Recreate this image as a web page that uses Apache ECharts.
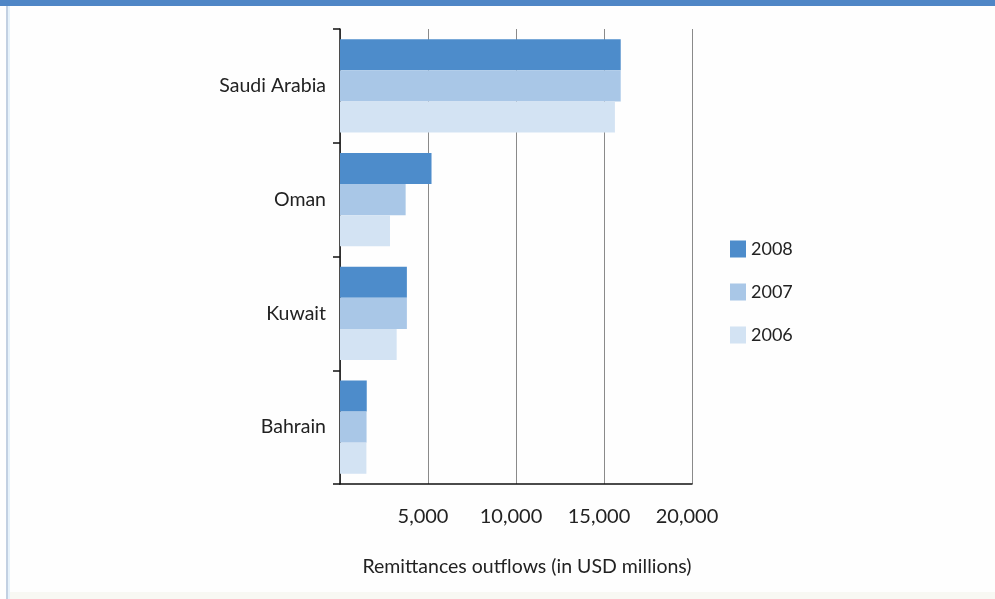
<!DOCTYPE html>
<html>
<head>
<meta charset="utf-8">
<script src="https://cdn.jsdelivr.net/npm/echarts@6/dist/echarts.min.js"></script>
<style>
  html, body { margin: 0; padding: 0; background: #fefefe; }
  #chart { width: 995px; height: 599px; }
</style>
</head>
<body>
<div id="chart"></div>
<script>
// Remittance outflows by country, USD millions
const countries = ['Bahrain', 'Kuwait', 'Oman', 'Saudi Arabia'];
const years = ['2008', '2007', '2006'];
const values2008 = [1520, 3800, 5200, 15950];
const values2007 = [1510, 3800, 3730, 15950];
const values2006 = [1500, 3220, 2840, 15620];
const xTicks = [0, 5000, 10000, 15000, 20000];

const colors = { '2008': '#4d8ccb', '2007': '#a9c7e7', '2006': '#d3e3f3' };
const seriesValues = { '2008': values2008, '2007': values2007, '2006': values2006 };
const font = 'Lato, "Open Sans", sans-serif';

const chart = echarts.init(document.getElementById('chart'), null, { renderer: 'canvas' });

chart.setOption({
  animation: false,
  backgroundColor: '#fefefe',
  textStyle: { fontFamily: font },
  grid: { left: 340, right: 303, top: 29, bottom: 115, containLabel: false },
  legend: {
    orient: 'vertical',
    left: 730,
    top: 240,
    padding: 0,
    itemWidth: 16,
    itemHeight: 17,
    itemGap: 25,
    icon: 'rect',
    data: years,
    textStyle: { fontFamily: font, fontSize: 18, lineHeight: 17, color: '#222' }
  },
  xAxis: {
    type: 'value',
    min: xTicks[0],
    max: xTicks[xTicks.length - 1],
    interval: xTicks[1] - xTicks[0],
    axisLine: { show: true, lineStyle: { color: '#111', width: 1.5 } },
    axisTick: { show: false },
    splitLine: { show: true, lineStyle: { color: '#8a8a8a', width: 1 } },
    axisLabel: {
      margin: 23,
      fontFamily: font,
      fontSize: 20,
      color: '#222',
      padding: [0, 10, 0, 0],
      formatter: v => (v === 0 ? '' : v.toLocaleString('en-US'))
    }
  },
  yAxis: {
    type: 'category',
    data: countries,
    axisLine: { show: true, lineStyle: { color: '#111', width: 1.5 } },
    axisTick: { show: true, length: 7, lineStyle: { color: '#111', width: 1.5 } },
    axisLabel: { margin: 14, fontFamily: font, fontSize: 19.5, color: '#222' }
  },
  series: years.map(y => ({
    name: y,
    type: 'bar',
    data: seriesValues[y],
    barGap: '0%',
    barCategoryGap: '18%',
    itemStyle: { color: colors[y] }
  })),
  graphic: [
    { type: 'rect', left: 0, top: 0, shape: { width: 995, height: 6 }, style: { fill: '#4f86c6' }, silent: true },
    { type: 'rect', left: 6, top: 6, shape: { width: 2, height: 593 }, style: { fill: '#c2d0e2' }, silent: true },
    { type: 'rect', left: 8, top: 6, shape: { width: 2, height: 593 }, style: { fill: '#e6f2fb' }, silent: true },
    { type: 'rect', left: 10, top: 592, shape: { width: 985, height: 7 }, style: { fill: '#f8f8f3' }, silent: true },
    {
      type: 'text',
      x: 527,
      y: 567,
      style: {
        text: 'Remittances outflows (in USD millions)',
        fontFamily: font,
        fontSize: 19.5,
        fill: '#222',
        textAlign: 'center',
        textVerticalAlign: 'middle'
      }
    }
  ]
});
</script>
</body>
</html>
